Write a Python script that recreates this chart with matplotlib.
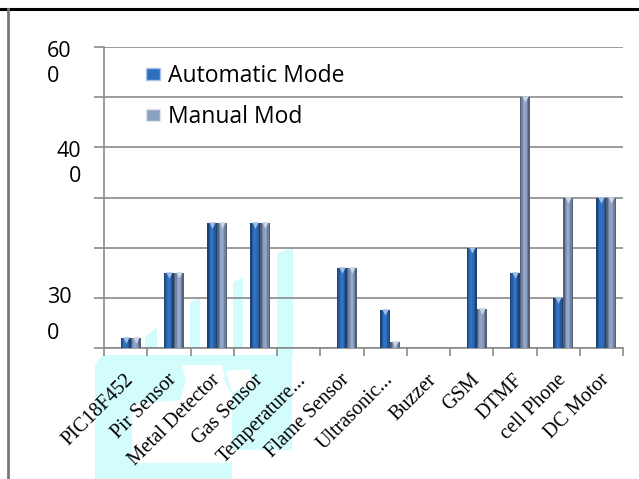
import matplotlib
matplotlib.use("Agg")
import matplotlib.pyplot as plt
from matplotlib.patches import Rectangle, Polygon
from matplotlib.lines import Line2D
from matplotlib.transforms import ScaledTranslation
import numpy as np

categories = ["PIC18F452", "Pir Sensor", "Metal Detector", "Gas Sensor",
              "Temperature...", "Flame Sensor", "Ultrasonic...", "Buzzer",
              "GSM", "DTMF", "cell Phone", "DC Motor"]
automatic = [20, 150, 250, 250, 0, 160, 75, 0, 200, 150, 100, 300]
manual = [20, 150, 250, 250, 0, 160, 12, 0, 77, 500, 300, 300]

AUTO_RGB = np.array([46, 110, 192]) / 255
MAN_RGB = np.array([140, 160, 196]) / 255
GRID = "#8a8a8a"
W, H = 639, 479


def px(x, y):
    # pixel position -> figure fraction
    return x / W, 1 - y / H


def cylinder(ax, xs, vals, offset, width, rgb):
    # each bar split in thin slices to fake the round shading
    shade = [0.6, 0.82, 1.0, 1.05, 0.95, 0.8, 0.6]
    n = len(shade)
    for k, f in enumerate(shade):
        c = np.clip(rgb * f, 0, 1)
        ax.bar(xs + offset - width / 2 + (k + 0.5) * width / n, vals,
               width=width / n, color=c, linewidth=0, zorder=3)
    top = [v for v in vals if v > 0]
    tx = [x + offset for x, v in zip(xs, vals) if v > 0]
    light = np.clip(rgb + (1 - rgb) * 0.55, 0, 1)
    ax.scatter(tx, np.array(top) - 4, marker="v", s=22, color=light,
               linewidths=0, zorder=4)


fig = plt.figure(figsize=(W / 100, H / 100), dpi=100)

# faint logo in the background
wm = "#d3fcfc"
for pts in [
    [(145, 347), (145, 337), (157, 327), (157, 347)],
    [(190, 347), (190, 302), (200, 298), (200, 347)],
    [(233, 347), (233, 282), (243, 277), (243, 347)],
    [(277, 357), (277, 253), (293, 248), (293, 357)],
    [(104, 355), (292, 355), (292, 450), (232, 450), (232, 479),
     (95, 479), (95, 366), (99, 358)],
]:
    fig.add_artist(Polygon([px(*p) for p in pts], closed=True,
                           facecolor=wm, edgecolor="none", zorder=0))
for pts in [
    [(132, 463), (132, 404), (180, 400), (186, 380), (222, 376),
     (232, 395), (232, 463)],
    [(182, 365), (222, 365), (225, 377), (186, 380)],
    [(226, 371), (250, 369), (252, 385), (232, 392)],
]:
    fig.add_artist(Polygon([px(*p) for p in pts], closed=True,
                           facecolor="white", edgecolor="none", zorder=0))

# outer frame lines
fig.add_artist(Line2D([0, 1], [px(0, 9)[1]] * 2, color="black", lw=2.2))
fig.add_artist(Line2D([px(8, 0)[0]] * 2, [0, px(0, 9)[1]], color="#777777", lw=2))

x0, y0 = px(104, 348)
x1, y1 = px(623, 47)
ax = fig.add_axes([x0, y0, x1 - x0, y1 - y0])
ax.patch.set_alpha(0)

xs = np.arange(len(categories))
cylinder(ax, xs, automatic, 0.0, 0.23, AUTO_RGB)
cylinder(ax, xs, manual, 0.23, 0.23, MAN_RGB)

ax.set_xlim(-0.5, len(categories) - 0.5)
ax.set_ylim(0, 600)
ax.set_yticks(np.arange(0, 601, 100))
ax.yaxis.grid(True, color=GRID, lw=1.2, zorder=1)
ax.set_axisbelow(True)
ax.tick_params(axis="y", length=7, color=GRID, labelleft=False, width=1.2)

ax.set_xticks(xs)
ax.set_xticklabels(categories, rotation=45, ha="right",
                   rotation_mode="anchor", fontsize=14.5,
                   family="Liberation Serif", va="center")
ax.tick_params(axis="x", length=0, pad=21)
shift = ScaledTranslation(0.05, 0, fig.dpi_scale_trans)
for lbl in ax.get_xticklabels():
    lbl.set_transform(lbl.get_transform() + shift)
ax.set_xticks(np.arange(-0.5, len(categories)), minor=True)
ax.tick_params(axis="x", which="minor", length=6, color=GRID, width=1.2)

for s in ["top", "right"]:
    ax.spines[s].set_visible(False)
for s in ["left", "bottom"]:
    ax.spines[s].set_color(GRID)
    ax.spines[s].set_linewidth(1.2)

# wrapped value labels on the left
ylab = dict(fontsize=15.5, family="Open Sans", va="center",
            transform=ax.get_yaxis_transform(), clip_on=False)
ax.text(-0.11, 591, "60", ha="left", **ylab)
ax.text(-0.11, 541, "0", ha="left", **ylab)
ax.text(-0.044, 391, "40", ha="right", **ylab)
ax.text(-0.044, 341, "0", ha="right", **ylab)
ax.text(-0.11, 101, "30", ha="left", **ylab)
ax.text(-0.11, 29, "0", ha="left", **ylab)

handles = [Rectangle((0, 0), 1, 1, facecolor=AUTO_RGB, edgecolor="#a8c4ea", lw=1),
           Rectangle((0, 0), 1, 1, facecolor=MAN_RGB, edgecolor="#e0e6f0", lw=1)]
ax.legend(handles, ["Automatic Mode", "Manual Mod"], loc="upper left",
          bbox_to_anchor=px(146, 64), bbox_transform=fig.transFigure,
          frameon=False, borderpad=0, borderaxespad=0,
          prop={"family": "Open Sans", "size": 16.5},
          handlelength=0.6, handleheight=0.45, handletextpad=0.35,
          labelspacing=0.75)

fig.savefig("out.png", dpi=100)
